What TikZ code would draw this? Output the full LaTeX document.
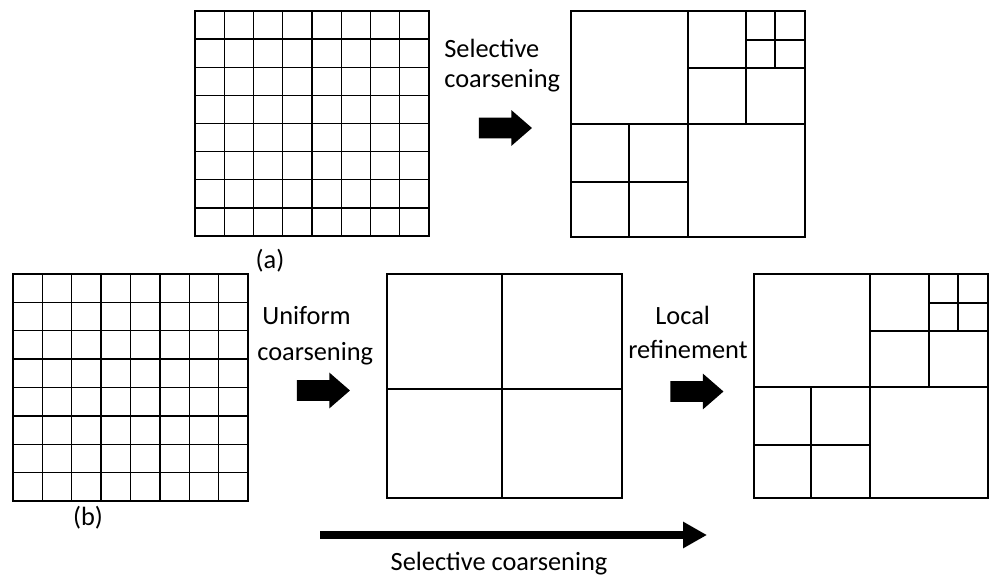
\documentclass[tikz,border=0pt]{standalone}
\usepackage{fontspec}
\setmainfont{Carlito}
\usetikzlibrary{arrows.meta,shapes.arrows,positioning}

\begin{document}
\begin{tikzpicture}[
		x = 0.02cm, y = -0.02cm, % one unit = one pixel, y pointing down
		> = {Triangle[length=0.48cm,width=0.5cm]}, % head of the long arrow
		mesh/.style = {line width=0.75pt},
		lbl/.style = {font=\fontsize{15}{18}\selectfont, inner sep=0pt},
		fatarrow/.style = {single arrow, fill=black, draw=none,
			inner xsep=0pt, inner ysep=0.2cm, % shaft is 0.4cm thick
			minimum height=1.06cm,
			single arrow head extend=0.15cm, single arrow tip angle=82}
	]
	
	\useasboundingbox (0,0) rectangle (990,577);
	
	% (a) fine mesh
	\draw[mesh] (195,11) rectangle (429,236);
	\foreach \i in {1,...,7} {
		\draw[mesh] ({195+\i*29.25},11) -- ({195+\i*29.25},236);
		\draw[mesh] (195,{11+\i*28.125}) -- (429,{11+\i*28.125});
	}
	
	% (a) selectively coarsened mesh
	\draw[mesh] (571,11) rectangle (805,237);
	\draw[mesh] (688,11) -- (688,237);
	\draw[mesh] (571,124) -- (805,124);
	\draw[mesh] (746,11) -- (746,124);
	\draw[mesh] (688,68) -- (805,68);
	\draw[mesh] (775,11) -- (775,68);
	\draw[mesh] (746,40) -- (805,40);
	\draw[mesh] (629,124) -- (629,237);
	\draw[mesh] (571,182) -- (688,182);
	
	% (b) fine mesh
	\draw[mesh] (13,274) rectangle (248,501);
	\foreach \i in {1,...,7} {
		\draw[mesh] ({13+\i*29.375},274) -- ({13+\i*29.375},501);
		\draw[mesh] (13,{274+\i*28.375}) -- (248,{274+\i*28.375});
	}
	
	% (b) uniformly coarsened mesh
	\draw[mesh] (387,274) rectangle (622,498);
	\draw[mesh] (502,274) -- (502,498);
	\draw[mesh] (387,389) -- (622,389);
	
	% (b) locally refined mesh
	\draw[mesh] (754,274) rectangle (988,498);
	\draw[mesh] (870,274) -- (870,498);
	\draw[mesh] (754,387) -- (988,387);
	\draw[mesh] (929,274) -- (929,387);
	\draw[mesh] (870,331) -- (988,331);
	\draw[mesh] (958,274) -- (958,331);
	\draw[mesh] (929,303) -- (988,303);
	\draw[mesh] (811,387) -- (811,498);
	\draw[mesh] (754,445) -- (870,445);
	
	% block arrows
	\node[fatarrow] (arA) at (499.5,128) {};
	\node[fatarrow] (arB) at (317.5,390.5) {};
	\node[fatarrow] (arC) at (691,391.5) {};
	
	% labels
	\node[lbl, anchor=base west] (selA) at (444,58) {Selective};
	\node[lbl, anchor=base west] (selB) at (444,88) {coarsening};
	\node[lbl, anchor=base west] (uniA) at (262,325) {Uniform};
	\node[lbl, anchor=base west] (uniB) at (257,360) {coarsening};
	\node[lbl, anchor=base west] (locA) at (655,325) {Local};
	\node[lbl, anchor=base west] (locB) at (628,358) {refinement};
	\node[lbl] (capA) at (270,261) {(a)};
	\node[lbl] (capB) at (88,518) {(b)};
	
	% long arrow underneath
	\coordinate (selS) at (320,535);
	\coordinate (selE) at (707,535);
	\draw[->, line width=0.17cm] (selS) -- (selE);
	\node[lbl, anchor=base] (selC) at (499,570) {Selective coarsening};
\end{tikzpicture}
\end{document}
